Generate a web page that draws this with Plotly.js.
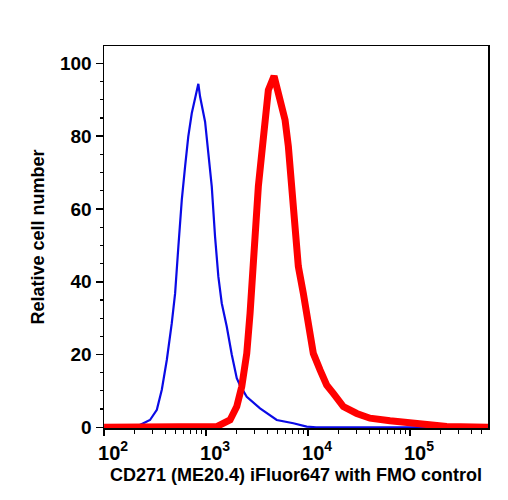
<!DOCTYPE html>
<html>
<head>
<meta charset="utf-8">
<script src="https://cdn.plot.ly/plotly-3.0.1.min.js"></script>
<style>html,body{margin:0;padding:0;background:#fff;}#chart{width:508px;height:500px;}</style>
</head>
<body>
<div id="chart"></div>
<script>
// FMO control (blue)
var fmoX = [100, 209, 282, 329, 368, 412, 461, 497, 535, 578, 623, 669, 724, 780, 840, 873, 978, 1053, 1137, 1225, 1320, 1425, 1595, 1786, 2000, 2154, 2506, 3383, 4934, 7177, 9711, 12000, 581600];
var fmoY = [0, 0.2, 2, 4.8, 10.3, 18.5, 28.6, 36.8, 49.7, 62.5, 71.7, 79.9, 86.3, 90.5, 94.4, 90.9, 84, 75.3, 66.2, 52.4, 41.4, 34.1, 27.7, 20, 13.5, 11.5, 8.4, 5.2, 2.0, 1.1, 0.2, 0, 0];
// CD271 (ME20.4) iFluor647 stained (red)
var cdX = [100, 1273, 1719, 2000, 2239, 2506, 2700, 2870, 3022, 3256, 3517, 3788, 4082, 4642, 5315, 5951, 6411, 6922, 7457, 8034, 8992, 10070, 11270, 13110, 15250, 17700, 22190, 30030, 40530, 63680, 100000, 145800, 228900, 581600];
var cdY = [0, 0.2, 2, 5.7, 11.2, 20.3, 31.3, 44.2, 55.2, 66.2, 75.3, 83.6, 92.7, 96.5, 90, 84.5, 77.2, 66.2, 53.3, 44.2, 36.8, 27.7, 20.3, 15.8, 11.6, 9.3, 5.7, 3.8, 2.5, 1.8, 1.3, 0.6, 0.2, 0];
var xTickVals = [100, 1000, 10000, 100000];
var xTickText = ['10<sup>2</sup>', '10<sup>3</sup>', '10<sup>4</sup>', '10<sup>5</sup>'];
var yTickVals = [0, 20, 40, 60, 80, 100];

var fontFam = 'Liberation Sans, Arial, Helvetica, sans-serif';
var traces = [
  {x: fmoX, y: fmoY, type: 'scatter', mode: 'lines', line: {color: 'rgb(10,10,230)', width: 2.2}, hoverinfo: 'skip'},
  {x: cdX, y: cdY, type: 'scatter', mode: 'lines', line: {color: 'rgb(255,0,0)', width: 7}, hoverinfo: 'skip'}
];
var layout = {
  width: 508, height: 500,
  margin: {l: 104, r: 20, t: 46, b: 72},
  paper_bgcolor: '#fff', plot_bgcolor: '#fff',
  showlegend: false,
  font: {family: fontFam, color: '#000', size: 18},
  xaxis: {
    type: 'log', range: [1.999, 5.765],
    tickmode: 'array', tickvals: xTickVals, ticktext: xTickText,
    ticks: 'outside', ticklen: 6, tickwidth: 1.5, tickcolor: '#000',
    ticklabelshift: 9,
    minor: {dtick: 'D1', ticks: 'outside', ticklen: 4, tickwidth: 1.2, tickcolor: '#000', showgrid: false},
    showline: true, linecolor: '#000', linewidth: 1.5, mirror: true,
    showgrid: false, zeroline: false,
    tickfont: {family: fontFam, size: 20, weight: 'bold', color: '#000'},
    title: {text: 'CD271 (ME20.4) iFluor647 with FMO control', font: {family: fontFam, size: 18, weight: 'bold', color: '#000'}, standoff: 6},
    automargin: false
  },
  yaxis: {
    range: [-0.2, 104.8],
    tickmode: 'array', tickvals: yTickVals,
    ticks: 'outside', ticklen: 7, tickwidth: 1.5, tickcolor: '#000',
    minor: {dtick: 5, ticks: 'outside', ticklen: 3, tickwidth: 1.2, tickcolor: '#000', showgrid: false},
    showline: true, linecolor: '#000', linewidth: 1.5, mirror: true,
    showgrid: false, zeroline: false,
    tickfont: {family: fontFam, size: 19, weight: 'bold', color: '#000'},
    title: {text: 'Relative cell number', font: {family: fontFam, size: 18, weight: 'bold', color: '#000'}, standoff: 10},
    automargin: false
  }
};
Plotly.newPlot('chart', traces, layout, {staticPlot: true, displayModeBar: false});
</script>
</body>
</html>
